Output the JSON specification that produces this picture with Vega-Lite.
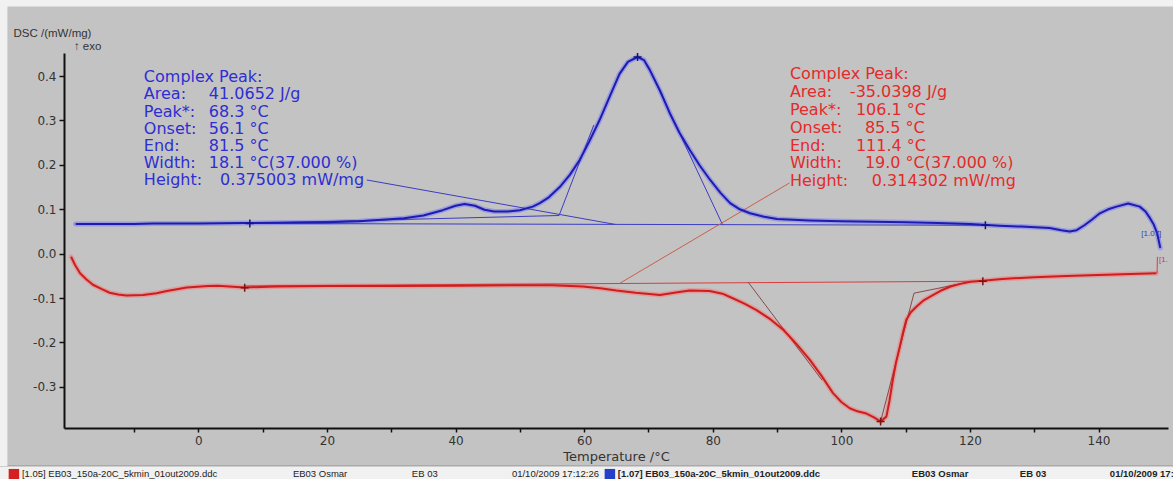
{
  "$schema": "https://vega.github.io/schema/vega-lite/v6.json",
  "width": 1104,
  "height": 375,
  "autosize": {"type": "none"},
  "padding": {"left": 64, "top": 53, "right": 5, "bottom": 51},
  "background": "#c3c3c3",
  "config": {"view": {"stroke": null}, "font": "DejaVu Sans"},
  "datasets": {
    "curves": [
      {"series": "blue", "temp": -19.1, "dsc": 0.067},
      {"series": "blue", "temp": -10, "dsc": 0.067},
      {"series": "blue", "temp": -7, "dsc": 0.068},
      {"series": "blue", "temp": 0, "dsc": 0.068},
      {"series": "blue", "temp": 7, "dsc": 0.069},
      {"series": "blue", "temp": 15, "dsc": 0.070},
      {"series": "blue", "temp": 20, "dsc": 0.071},
      {"series": "blue", "temp": 25, "dsc": 0.073},
      {"series": "blue", "temp": 28, "dsc": 0.076},
      {"series": "blue", "temp": 32, "dsc": 0.080},
      {"series": "blue", "temp": 35, "dsc": 0.086},
      {"series": "blue", "temp": 38, "dsc": 0.098},
      {"series": "blue", "temp": 40, "dsc": 0.108},
      {"series": "blue", "temp": 41.4, "dsc": 0.112},
      {"series": "blue", "temp": 43, "dsc": 0.108},
      {"series": "blue", "temp": 44.5, "dsc": 0.099},
      {"series": "blue", "temp": 46, "dsc": 0.095},
      {"series": "blue", "temp": 48, "dsc": 0.095},
      {"series": "blue", "temp": 50, "dsc": 0.098},
      {"series": "blue", "temp": 52, "dsc": 0.106},
      {"series": "blue", "temp": 53.1, "dsc": 0.114},
      {"series": "blue", "temp": 54.5, "dsc": 0.127},
      {"series": "blue", "temp": 56.2, "dsc": 0.150},
      {"series": "blue", "temp": 57.8, "dsc": 0.178},
      {"series": "blue", "temp": 59.3, "dsc": 0.211},
      {"series": "blue", "temp": 60.8, "dsc": 0.253},
      {"series": "blue", "temp": 62.4, "dsc": 0.301},
      {"series": "blue", "temp": 64, "dsc": 0.355},
      {"series": "blue", "temp": 65.5, "dsc": 0.405},
      {"series": "blue", "temp": 66.8, "dsc": 0.432},
      {"series": "blue", "temp": 68.3, "dsc": 0.443},
      {"series": "blue", "temp": 69.3, "dsc": 0.436},
      {"series": "blue", "temp": 70.2, "dsc": 0.414},
      {"series": "blue", "temp": 71.8, "dsc": 0.367},
      {"series": "blue", "temp": 73.3, "dsc": 0.317},
      {"series": "blue", "temp": 74.8, "dsc": 0.273},
      {"series": "blue", "temp": 76.4, "dsc": 0.234},
      {"series": "blue", "temp": 78, "dsc": 0.198},
      {"series": "blue", "temp": 79.6, "dsc": 0.166},
      {"series": "blue", "temp": 81.2, "dsc": 0.137},
      {"series": "blue", "temp": 82.7, "dsc": 0.114},
      {"series": "blue", "temp": 84.2, "dsc": 0.100},
      {"series": "blue", "temp": 85.8, "dsc": 0.091},
      {"series": "blue", "temp": 88, "dsc": 0.083},
      {"series": "blue", "temp": 90, "dsc": 0.078},
      {"series": "blue", "temp": 95, "dsc": 0.075},
      {"series": "blue", "temp": 100, "dsc": 0.073},
      {"series": "blue", "temp": 105, "dsc": 0.072},
      {"series": "blue", "temp": 110, "dsc": 0.071},
      {"series": "blue", "temp": 115, "dsc": 0.069},
      {"series": "blue", "temp": 120, "dsc": 0.067},
      {"series": "blue", "temp": 124.6, "dsc": 0.063},
      {"series": "blue", "temp": 128, "dsc": 0.061},
      {"series": "blue", "temp": 132.4, "dsc": 0.058},
      {"series": "blue", "temp": 134.2, "dsc": 0.053},
      {"series": "blue", "temp": 135.5, "dsc": 0.050},
      {"series": "blue", "temp": 136.6, "dsc": 0.053},
      {"series": "blue", "temp": 137.8, "dsc": 0.064},
      {"series": "blue", "temp": 139, "dsc": 0.077},
      {"series": "blue", "temp": 140.2, "dsc": 0.091},
      {"series": "blue", "temp": 141.5, "dsc": 0.100},
      {"series": "blue", "temp": 142.8, "dsc": 0.106},
      {"series": "blue", "temp": 144.6, "dsc": 0.113},
      {"series": "blue", "temp": 146.4, "dsc": 0.106},
      {"series": "blue", "temp": 147.3, "dsc": 0.095},
      {"series": "blue", "temp": 148, "dsc": 0.080},
      {"series": "blue", "temp": 148.6, "dsc": 0.065},
      {"series": "blue", "temp": 149.1, "dsc": 0.047},
      {"series": "blue", "temp": 149.6, "dsc": 0.013},
      {"series": "red", "temp": -19.8, "dsc": -0.007},
      {"series": "red", "temp": -19.2, "dsc": -0.025},
      {"series": "red", "temp": -18.4, "dsc": -0.044},
      {"series": "red", "temp": -17.4, "dsc": -0.058},
      {"series": "red", "temp": -16.4, "dsc": -0.070},
      {"series": "red", "temp": -15, "dsc": -0.080},
      {"series": "red", "temp": -13.8, "dsc": -0.088},
      {"series": "red", "temp": -12.5, "dsc": -0.092},
      {"series": "red", "temp": -11.2, "dsc": -0.094},
      {"series": "red", "temp": -8.6, "dsc": -0.093},
      {"series": "red", "temp": -6.5, "dsc": -0.089},
      {"series": "red", "temp": -4.9, "dsc": -0.084},
      {"series": "red", "temp": -1.8, "dsc": -0.076},
      {"series": "red", "temp": 1.5, "dsc": -0.073},
      {"series": "red", "temp": 3, "dsc": -0.072},
      {"series": "red", "temp": 7.2, "dsc": -0.076},
      {"series": "red", "temp": 12, "dsc": -0.074},
      {"series": "red", "temp": 20, "dsc": -0.073},
      {"series": "red", "temp": 30, "dsc": -0.073},
      {"series": "red", "temp": 40, "dsc": -0.072},
      {"series": "red", "temp": 50, "dsc": -0.071},
      {"series": "red", "temp": 55, "dsc": -0.071},
      {"series": "red", "temp": 59.8, "dsc": -0.074},
      {"series": "red", "temp": 62.5, "dsc": -0.078},
      {"series": "red", "temp": 65, "dsc": -0.083},
      {"series": "red", "temp": 68, "dsc": -0.088},
      {"series": "red", "temp": 71.8, "dsc": -0.093},
      {"series": "red", "temp": 74, "dsc": -0.088},
      {"series": "red", "temp": 76.4, "dsc": -0.083},
      {"series": "red", "temp": 79.5, "dsc": -0.084},
      {"series": "red", "temp": 81.5, "dsc": -0.090},
      {"series": "red", "temp": 83.2, "dsc": -0.101},
      {"series": "red", "temp": 85, "dsc": -0.113},
      {"series": "red", "temp": 86.8, "dsc": -0.127},
      {"series": "red", "temp": 89, "dsc": -0.148},
      {"series": "red", "temp": 91, "dsc": -0.172},
      {"series": "red", "temp": 93, "dsc": -0.203},
      {"series": "red", "temp": 95.1, "dsc": -0.239},
      {"series": "red", "temp": 97, "dsc": -0.277},
      {"series": "red", "temp": 98.7, "dsc": -0.314},
      {"series": "red", "temp": 100, "dsc": -0.334},
      {"series": "red", "temp": 101.3, "dsc": -0.348},
      {"series": "red", "temp": 102.5, "dsc": -0.355},
      {"series": "red", "temp": 103.9, "dsc": -0.360},
      {"series": "red", "temp": 105, "dsc": -0.368},
      {"series": "red", "temp": 106.1, "dsc": -0.378},
      {"series": "red", "temp": 107, "dsc": -0.367},
      {"series": "red", "temp": 107.5, "dsc": -0.330},
      {"series": "red", "temp": 108, "dsc": -0.284},
      {"series": "red", "temp": 108.5, "dsc": -0.245},
      {"series": "red", "temp": 109.1, "dsc": -0.209},
      {"series": "red", "temp": 109.6, "dsc": -0.177},
      {"series": "red", "temp": 110.1, "dsc": -0.149},
      {"series": "red", "temp": 110.8, "dsc": -0.132},
      {"series": "red", "temp": 111.7, "dsc": -0.119},
      {"series": "red", "temp": 112.8, "dsc": -0.105},
      {"series": "red", "temp": 114.3, "dsc": -0.093},
      {"series": "red", "temp": 115.5, "dsc": -0.083},
      {"series": "red", "temp": 117, "dsc": -0.074},
      {"series": "red", "temp": 118.5, "dsc": -0.068},
      {"series": "red", "temp": 120.1, "dsc": -0.063},
      {"series": "red", "temp": 122, "dsc": -0.061},
      {"series": "red", "temp": 125, "dsc": -0.057},
      {"series": "red", "temp": 130, "dsc": -0.053},
      {"series": "red", "temp": 135, "dsc": -0.050},
      {"series": "red", "temp": 140, "dsc": -0.048},
      {"series": "red", "temp": 145, "dsc": -0.046},
      {"series": "red", "temp": 149, "dsc": -0.044}
    ],
    "lines": [
      {"id": "b_base", "kind": "blue", "temp": 7.2, "dsc": 0.068},
      {"id": "b_base", "kind": "blue", "temp": 122.4, "dsc": 0.064},
      {"id": "b_virt", "kind": "blue", "temp": 7.2, "dsc": 0.068},
      {"id": "b_virt", "kind": "blue", "temp": 56.1, "dsc": 0.086},
      {"id": "b_onset", "kind": "blue", "temp": 56.1, "dsc": 0.086},
      {"id": "b_onset", "kind": "blue", "temp": 61.5, "dsc": 0.29},
      {"id": "b_end", "kind": "blue", "temp": 70.2, "dsc": 0.414},
      {"id": "b_end", "kind": "blue", "temp": 81.5, "dsc": 0.066},
      {"id": "b_lead", "kind": "blue", "temp": 26.2, "dsc": 0.166},
      {"id": "b_lead", "kind": "blue", "temp": 64.8, "dsc": 0.066},
      {"id": "r_base", "kind": "red base", "temp": 7.2, "dsc": -0.0725},
      {"id": "r_base", "kind": "red base", "temp": 122, "dsc": -0.062},
      {"id": "r_lead", "kind": "red leader", "temp": 65.5, "dsc": -0.067},
      {"id": "r_lead", "kind": "red leader", "temp": 91.9, "dsc": 0.159},
      {"id": "r_onset", "kind": "red tangent", "temp": 85.5, "dsc": -0.064},
      {"id": "r_onset", "kind": "red tangent", "temp": 97, "dsc": -0.285},
      {"id": "r_end", "kind": "red tangent", "temp": 106.1, "dsc": -0.378},
      {"id": "r_end", "kind": "red tangent", "temp": 111.3, "dsc": -0.089},
      {"id": "r_end", "kind": "red tangent", "temp": 120.1, "dsc": -0.063},
      {"id": "r_tick", "kind": "red base", "temp": 149.1, "dsc": -0.044},
      {"id": "r_tick", "kind": "red base", "temp": 149.15, "dsc": -0.007}
    ],
    "markers": [
      {"series": "blue", "temp": 8.0, "dsc": 0.068},
      {"series": "blue", "temp": 68.3, "dsc": 0.443},
      {"series": "blue", "temp": 122.4, "dsc": 0.064},
      {"series": "red", "temp": 7.2, "dsc": -0.077},
      {"series": "red", "temp": 106.1, "dsc": -0.378},
      {"series": "red", "temp": 122, "dsc": -0.062}
    ]
  },
  "resolve": {"scale": {"color": "independent"}},
  "layer": [
    {
      "data": {"name": "curves"},
      "mark": {"type": "line", "strokeWidth": 5, "opacity": 0.55, "strokeCap": "round", "strokeJoin": "round"},
      "encoding": {
        "x": {
          "field": "temp", "type": "quantitative",
          "scale": {"domain": [-20.9, 150.8], "nice": false, "zero": false},
          "axis": {
            "title": "Temperature /°C",
            "values": [-10, 0, 10, 20, 30, 40, 50, 60, 70, 80, 90, 100, 110, 120, 130, 140],
            "labelExpr": "datum.value % 20 === 0 ? datum.label : ''",
            "grid": false,
            "domainColor": "#111111", "domainWidth": 2,
            "tickColor": "#111111", "tickWidth": 1.5, "tickSize": 4,
            "labelFont": "DejaVu Sans", "labelFontSize": 12, "labelColor": "#333333", "labelPadding": 3,
            "titleFont": "DejaVu Sans", "titleFontSize": 13, "titleFontWeight": "normal", "titleColor": "#333333",
            "titleY": 28, "titleBaseline": "middle"
          }
        },
        "y": {
          "field": "dsc", "type": "quantitative",
          "scale": {"domain": [-0.3926, 0.452], "nice": false, "zero": false},
          "axis": {
            "title": "DSC /(mW/mg)",
            "values": [-0.3, -0.2, -0.1, 0, 0.1, 0.2, 0.3, 0.4],
            "format": ".1f",
            "labelExpr": "replace(datum.label, '\u2212', '-')",
            "grid": false,
            "domainColor": "#111111", "domainWidth": 2,
            "tickColor": "#111111", "tickWidth": 1.5, "tickSize": 5,
            "labelFont": "DejaVu Sans", "labelFontSize": 12, "labelColor": "#333333", "labelPadding": 3,
            "titleFont": "Liberation Sans", "titleFontSize": 11.5, "titleFontWeight": "normal", "titleColor": "#333333",
            "titleAngle": 0, "titleAlign": "left", "titleBaseline": "middle", "titleX": -51, "titleY": -20
          }
        },
        "color": {"field": "series", "type": "nominal", "scale": {"domain": ["blue", "red"], "range": ["#7a7af2", "#f47c7c"]}, "legend": null},
        "detail": {"field": "series"}
      }
    },
    {
      "data": {"values": [{}]},
      "mark": {"type": "rect", "fill": "#f1f1f1", "stroke": "#9a9a9a", "strokeWidth": 1},
      "encoding": {
        "x": {"datum": -32, "type": "quantitative"},
        "x2": {"datum": 153},
        "y": {"datum": -0.478, "type": "quantitative"},
        "y2": {"datum": -0.53}
      }
    },
    {
      "data": {"values": [{}]},
      "mark": {"type": "rect", "fill": "#f1f1f1"},
      "encoding": {
        "x": {"datum": -32, "type": "quantitative"},
        "x2": {"datum": 153},
        "y": {"datum": 0.58, "type": "quantitative"},
        "y2": {"datum": 0.5565}
      }
    },
    {
      "data": {"values": [{}]},
      "mark": {"type": "rect", "fill": "#f1f1f1"},
      "encoding": {
        "x": {"datum": -32, "type": "quantitative"},
        "x2": {"datum": -29.7},
        "y": {"datum": 0.58, "type": "quantitative"},
        "y2": {"datum": -0.478}
      }
    },
    {
      "data": {"name": "lines"},
      "mark": {"type": "line", "strokeWidth": 1},
      "encoding": {
        "x": {"field": "temp", "type": "quantitative"},
        "y": {"field": "dsc", "type": "quantitative"},
        "color": {"field": "kind", "type": "nominal", "scale": {"domain": ["blue", "red base", "red leader", "red tangent"], "range": ["#3c3cc4", "#dc3c3c", "#c8604c", "#8a4848"]}, "legend": null},
        "detail": {"field": "id"}
      }
    },
    {
      "data": {"name": "curves"},
      "mark": {"type": "line", "strokeWidth": 2, "strokeJoin": "round"},
      "encoding": {
        "x": {"field": "temp", "type": "quantitative"},
        "y": {"field": "dsc", "type": "quantitative"},
        "color": {"field": "series", "type": "nominal", "scale": {"domain": ["blue", "red"], "range": ["#1c1cb0", "#cc1e1e"]}, "legend": null},
        "detail": {"field": "series"}
      }
    },
    {
      "data": {"name": "markers"},
      "mark": {"type": "point", "shape": "M-1,0H1M0,-1V1", "filled": false, "size": 64, "strokeWidth": 1.5, "opacity": 1},
      "encoding": {
        "x": {"field": "temp", "type": "quantitative"},
        "y": {"field": "dsc", "type": "quantitative"},
        "color": {"field": "series", "type": "nominal", "scale": {"domain": ["blue", "red"], "range": ["#14147a", "#7a1414"]}, "legend": null}
      }
    },
    {
      "data": {"values": [{}]},
      "mark": {"type": "text", "text": ["Complex Peak:", "Area:", "Peak*:", "Onset:", "End:", "Width:", "Height:"], "align": "left", "baseline": "top", "lineHeight": 17.2, "font": "DejaVu Sans", "fontSize": 16, "color": "#2e2ed2"},
      "encoding": {"x": {"datum": -8.48, "type": "quantitative"}, "y": {"datum": 0.4155, "type": "quantitative"}}
    },
    {
      "data": {"values": [{}]},
      "mark": {"type": "text", "text": ["41.0652 J/g", "68.3 °C", "56.1 °C", "81.5 °C", "18.1 °C(37.000 %)"], "align": "left", "baseline": "top", "lineHeight": 17.2, "font": "DejaVu Sans", "fontSize": 16, "color": "#2e2ed2"},
      "encoding": {"x": {"datum": 1.63, "type": "quantitative"}, "y": {"datum": 0.3768, "type": "quantitative"}}
    },
    {
      "data": {"values": [{}]},
      "mark": {"type": "text", "text": "0.375003 mW/mg", "align": "left", "baseline": "top", "font": "DejaVu Sans", "fontSize": 16, "color": "#2e2ed2"},
      "encoding": {"x": {"datum": 3.38, "type": "quantitative"}, "y": {"datum": 0.1831, "type": "quantitative"}}
    },
    {
      "data": {"values": [{}]},
      "mark": {"type": "text", "text": ["Complex Peak:", "Area:", "Peak*:", "Onset:", "End:", "Width:", "Height:"], "align": "left", "baseline": "top", "lineHeight": 17.8, "font": "DejaVu Sans", "fontSize": 16, "color": "#e42a2a"},
      "encoding": {"x": {"datum": 92.0, "type": "quantitative"}, "y": {"datum": 0.4216, "type": "quantitative"}}
    },
    {
      "data": {"values": [{}]},
      "mark": {"type": "text", "text": "-35.0398 J/g", "align": "left", "baseline": "top", "font": "DejaVu Sans", "fontSize": 16, "color": "#e42a2a"},
      "encoding": {"x": {"datum": 101.32, "type": "quantitative"}, "y": {"datum": 0.3815, "type": "quantitative"}}
    },
    {
      "data": {"values": [{}]},
      "mark": {"type": "text", "text": "106.1 °C", "align": "left", "baseline": "top", "font": "DejaVu Sans", "fontSize": 16, "color": "#e42a2a"},
      "encoding": {"x": {"datum": 102.26, "type": "quantitative"}, "y": {"datum": 0.3414, "type": "quantitative"}}
    },
    {
      "data": {"values": [{}]},
      "mark": {"type": "text", "text": "85.5 °C", "align": "left", "baseline": "top", "font": "DejaVu Sans", "fontSize": 16, "color": "#e42a2a"},
      "encoding": {"x": {"datum": 103.66, "type": "quantitative"}, "y": {"datum": 0.3014, "type": "quantitative"}}
    },
    {
      "data": {"values": [{}]},
      "mark": {"type": "text", "text": "111.4 °C", "align": "left", "baseline": "top", "font": "DejaVu Sans", "fontSize": 16, "color": "#e42a2a"},
      "encoding": {"x": {"datum": 102.26, "type": "quantitative"}, "y": {"datum": 0.2613, "type": "quantitative"}}
    },
    {
      "data": {"values": [{}]},
      "mark": {"type": "text", "text": "19.0 °C(37.000 %)", "align": "left", "baseline": "top", "font": "DejaVu Sans", "fontSize": 16, "color": "#e42a2a"},
      "encoding": {"x": {"datum": 103.66, "type": "quantitative"}, "y": {"datum": 0.2212, "type": "quantitative"}}
    },
    {
      "data": {"values": [{}]},
      "mark": {"type": "text", "text": "0.314302 mW/mg", "align": "left", "baseline": "top", "font": "DejaVu Sans", "fontSize": 16, "color": "#e42a2a"},
      "encoding": {"x": {"datum": 104.74, "type": "quantitative"}, "y": {"datum": 0.1811, "type": "quantitative"}}
    },
    {
      "data": {"values": [{}]},
      "mark": {"type": "text", "text": "↑ exo", "align": "left", "baseline": "middle", "font": "Liberation Sans", "fontSize": 11.5, "color": "#333333"},
      "encoding": {"x": {"datum": -19.36, "type": "quantitative"}, "y": {"datum": 0.4655, "type": "quantitative"}}
    },
    {
      "data": {"values": [{}]},
      "mark": {"type": "text", "text": "[1.07]", "align": "center", "baseline": "middle", "font": "Liberation Sans", "fontSize": 8, "color": "#3a3ac0"},
      "encoding": {"x": {"datum": 148.2, "type": "quantitative"}, "y": {"datum": 0.044, "type": "quantitative"}}
    },
    {
      "data": {"values": [{}]},
      "mark": {"type": "text", "text": "[1.", "align": "left", "baseline": "middle", "font": "Liberation Sans", "fontSize": 8, "color": "#d03a3a"},
      "encoding": {"x": {"datum": 149.4, "type": "quantitative"}, "y": {"datum": -0.014, "type": "quantitative"}}
    },
    {
      "data": {"values": [{}]},
      "mark": {"type": "point", "shape": "square", "filled": true, "size": 110, "color": "#d42020", "opacity": 1},
      "encoding": {"x": {"datum": -28.69, "type": "quantitative"}, "y": {"datum": -0.4966, "type": "quantitative"}}
    },
    {
      "data": {"values": [{}]},
      "mark": {"type": "point", "shape": "square", "filled": true, "size": 110, "color": "#2440c8", "opacity": 1},
      "encoding": {"x": {"datum": 64.0, "type": "quantitative"}, "y": {"datum": -0.4966, "type": "quantitative"}}
    },
    {
      "data": {"values": [{}]},
      "mark": {"type": "text", "text": "[1.05] EB03_150a-20C_5kmin_01out2009.ddc", "align": "left", "baseline": "middle", "font": "Liberation Sans", "fontSize": 9.5, "color": "#222222"},
      "encoding": {"x": {"datum": -27.45, "type": "quantitative"}, "y": {"datum": -0.4966, "type": "quantitative"}}
    },
    {
      "data": {"values": [{}]},
      "mark": {"type": "text", "text": "EB03 Osmar", "align": "left", "baseline": "middle", "font": "Liberation Sans", "fontSize": 9.5, "color": "#222222"},
      "encoding": {"x": {"datum": 14.7, "type": "quantitative"}, "y": {"datum": -0.4966, "type": "quantitative"}}
    },
    {
      "data": {"values": [{}]},
      "mark": {"type": "text", "text": "EB 03", "align": "left", "baseline": "middle", "font": "Liberation Sans", "fontSize": 9.5, "color": "#222222"},
      "encoding": {"x": {"datum": 33.2, "type": "quantitative"}, "y": {"datum": -0.4966, "type": "quantitative"}}
    },
    {
      "data": {"values": [{}]},
      "mark": {"type": "text", "text": "01/10/2009 17:12:26", "align": "left", "baseline": "middle", "font": "Liberation Sans", "fontSize": 9.5, "color": "#222222"},
      "encoding": {"x": {"datum": 48.76, "type": "quantitative"}, "y": {"datum": -0.4966, "type": "quantitative"}}
    },
    {
      "data": {"values": [{}]},
      "mark": {"type": "text", "text": "[1.07] EB03_150a-20C_5kmin_01out2009.ddc", "align": "left", "baseline": "middle", "font": "Liberation Sans", "fontSize": 9.5, "fontWeight": "bold", "color": "#222222"},
      "encoding": {"x": {"datum": 65.24, "type": "quantitative"}, "y": {"datum": -0.4966, "type": "quantitative"}}
    },
    {
      "data": {"values": [{}]},
      "mark": {"type": "text", "text": "EB03 Osmar", "align": "left", "baseline": "middle", "font": "Liberation Sans", "fontSize": 9.5, "fontWeight": "bold", "color": "#222222"},
      "encoding": {"x": {"datum": 110.96, "type": "quantitative"}, "y": {"datum": -0.4966, "type": "quantitative"}}
    },
    {
      "data": {"values": [{}]},
      "mark": {"type": "text", "text": "EB 03", "align": "left", "baseline": "middle", "font": "Liberation Sans", "fontSize": 9.5, "fontWeight": "bold", "color": "#222222"},
      "encoding": {"x": {"datum": 127.76, "type": "quantitative"}, "y": {"datum": -0.4966, "type": "quantitative"}}
    },
    {
      "data": {"values": [{}]},
      "mark": {"type": "text", "text": "01/10/2009 17:12:26", "align": "left", "baseline": "middle", "font": "Liberation Sans", "fontSize": 9.5, "fontWeight": "bold", "color": "#222222"},
      "encoding": {"x": {"datum": 141.76, "type": "quantitative"}, "y": {"datum": -0.4966, "type": "quantitative"}}
    }
  ]
}
